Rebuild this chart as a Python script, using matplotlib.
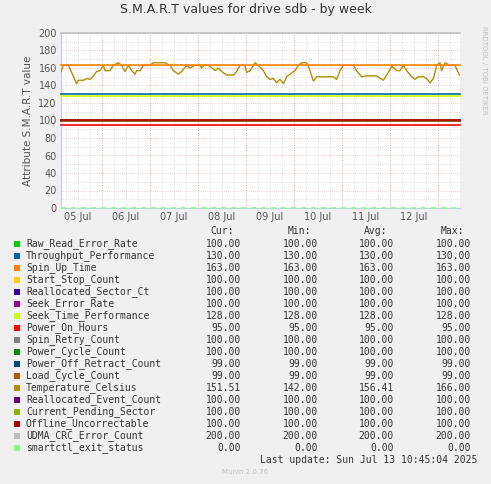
import matplotlib
matplotlib.use("Agg")
import matplotlib.pyplot as plt
import numpy as np

names = ["Raw_Read_Error_Rate","Throughput_Performance","Spin_Up_Time","Start_Stop_Count",
         "Reallocated_Sector_Ct","Seek_Error_Rate","Seek_Time_Performance","Power_On_Hours",
         "Spin_Retry_Count","Power_Cycle_Count","Power_Off_Retract_Count","Load_Cycle_Count",
         "Temperature_Celsius","Reallocated_Event_Count","Current_Pending_Sector",
         "Offline_Uncorrectable","UDMA_CRC_Error_Count","smartctl_exit_status"]
colors = ["#00CC00","#0066B3","#FF8000","#FFCC00","#330099","#990099","#CCFF00","#FF0000",
          "#808080","#008F00","#00487D","#B35A00","#B38F00","#6B006B","#8FB300","#B30000",
          "#BEBEBE","#80FF80"]
cur = [100,130,163,100,100,100,128,95,100,100,99,99,151.51,100,100,100,200,0]
mins = [100,130,163,100,100,100,128,95,100,100,99,99,142,100,100,100,200,0]
avgs = [100,130,163,100,100,100,128,95,100,100,99,99,156.41,100,100,100,200,0]
maxs = [100,130,163,100,100,100,128,95,100,100,99,99,166,100,100,100,200,0]

# hours since 05 Jul 00:00
temp_hours = [3.5,4.7,7.2,8.8,11.3,12.2,14.7,16.3,18,19.7,21.3,23,24.7,25.5,28,29.7,32.2,33.8,35.5,
              37.2,38.8,40.5,41.3,43,44.7,48,49.7,53,55.5,58,59.7,62.2,63.8,66.3,68,70.5,73,73.8,
              75.5,78,80.5,82.2,83.8,86.3,89.7,91.3,93,95.5,96.3,98,100.5,102.2,104.7,106.3,108,
              109.7,111.3,113,114.7,116.3,118,120.5,122.2,123.8,126.3,128,129.7,131.3,136.3,139.7,
              141.3,143,144.7,149.7,151.3,153.8,156.3,161.3,164.7,167.2,168.8,171.3,173,174.7,
              176.3,178.8,180.5,182.2,184.7,186.3,188,189.7,191.3,193,193.8,195.5,198,200.5,202.7]
temp_vals = [156,163,163,155,142,146,146,148,147,151,156,157,163,157,157,163,166,163,156,
             163,157,153,157,157,163,163,166,166,166,163,157,153,156,163,160,163,163,160,
             164,162,157,160,156,152,152,156,163,163,155,157,166,163,157,150,147,
             148,143,147,142,150,153,157,163,166,166,157,145,150,150,150,
             147,157,163,163,157,150,151,151,146,155,162,157,157,163,
             157,150,147,150,150,148,143,148,163,166,157,166,163,163,152]
day_labels = ["05 Jul","06 Jul","07 Jul","08 Jul","09 Jul","10 Jul","11 Jul","12 Jul"]
t0, t1 = 3.5, 203.0

fig = plt.figure(figsize=(4.91, 4.84), dpi=100, facecolor="#F0F0F0")
W, H = 491, 484
ax = fig.add_axes([61/W, 1-208/H, (460-61)/W, (208-33)/H], facecolor="white")

ax.set_xlim(t0, t1)
ax.set_ylim(0, 200)
for y in range(0, 201, 10):
    ax.axhline(y, color="#C8C8C8" if y % 20 else "#E0A0A0", lw=0.5, ls=(0, (1, 2)), zorder=0)
for h in np.arange(6, 204, 6):
    if h % 24:
        ax.axvline(h, color="#C8C8C8", lw=0.5, ls=(0, (1, 2)), zorder=0)
    else:
        ax.axvline(h, color="#F08080", lw=0.6, ls=(0, (1, 2)), zorder=0)

for i in range(len(names)):
    if names[i] == "Temperature_Celsius":
        ax.plot(temp_hours, temp_vals, color=colors[i], lw=1, zorder=3)
    else:
        ls = (0, (3, 3)) if cur[i] == 0 else "-"
        ax.plot([t0, t1], [cur[i], cur[i]], color=colors[i], lw=1.2, ls=ls, zorder=5,
                clip_on=False)

ax.set_yticks(range(0, 201, 20))
ax.set_xticks([12 + 24*k for k in range(8)])
ax.set_xticklabels(day_labels)
ax.tick_params(labelsize=7, colors="#555555", length=0, pad=3)
for s in ["top", "right"]:
    ax.spines[s].set_visible(False)
for s in ["left", "bottom"]:
    ax.spines[s].set_color("#C8C8FF")
    ax.spines[s].set_zorder(1)
ax.set_ylabel("Attribute S.M.A.R.T value", fontsize=7.5, color="#555555")
fig.text(0.5, 1-10/H, "S.M.A.R.T values for drive sdb - by week", ha="center", va="center",
         fontsize=9, color="#333333")
fig.text(484/W, 1-70/H, "RRDTOOL / TOBI OETIKER", rotation=270, ha="center", va="center",
         fontsize=5, color="#C0C0C0")

mono = "DejaVu Sans Mono"
fs = 7
y0 = 231
for txt, xr in [("Cur:", 234), ("Min:", 311), ("Avg:", 387), ("Max:", 464)]:
    fig.text(xr/W, 1-y0/H, txt, ha="right", va="center", family=mono, fontsize=fs, color="#333333")
for i, n in enumerate(names):
    y = 244 + 12*i
    fig.patches.append(plt.Rectangle((14/W, 1-(y+3)/H), 6/W, 6/H, transform=fig.transFigure,
                                     facecolor=colors[i], edgecolor="none"))
    fig.text(26/W, 1-y/H, n, ha="left", va="center", family=mono, fontsize=fs, color="#333333")
    for v, xr in [(cur[i], 241), (mins[i], 318), (avgs[i], 394), (maxs[i], 471)]:
        fig.text(xr/W, 1-y/H, f"{v:.2f}", ha="right", va="center", family=mono, fontsize=fs,
                 color="#333333")
fig.text(477/W, 1-460/H, "Last update: Sun Jul 13 10:45:04 2025", ha="right", va="center",
         family=mono, fontsize=fs, color="#333333")
fig.text(245/W, 1-472/H, "Munin 2.0.76", ha="center", va="center", fontsize=5, color="#C0C0C0")

fig.savefig("out.png", dpi=100, facecolor=fig.get_facecolor())
